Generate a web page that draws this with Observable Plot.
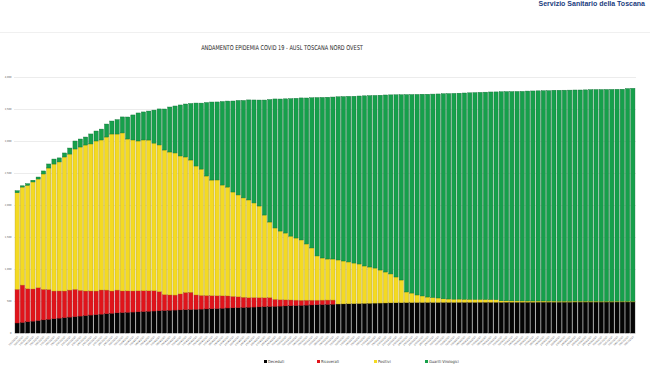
<!DOCTYPE html>
<html><head><meta charset="utf-8">
<script src="https://cdn.jsdelivr.net/npm/d3@7"></script>
<script src="https://cdn.jsdelivr.net/npm/@observablehq/plot@0.6"></script>
<style>
html,body{margin:0;padding:0;background:#fff}
body{width:650px;height:365px;overflow:hidden;position:relative;font-family:"Liberation Sans Narrow","DejaVu Sans Condensed",sans-serif}
#brand{position:absolute;right:5px;top:0px;font:bold 7px/7px "Liberation Sans","DejaVu Sans",sans-serif;color:#1b3d7e;white-space:nowrap}
#rule{position:absolute;left:0;top:32px;width:650px;height:1px;background:#f0f0f0}
#title{position:absolute;left:0;width:564px;top:44px;text-align:center;font-size:6.6px;color:#262626;white-space:nowrap;transform:scaleX(0.84);transform-origin:282px 0}
#chart{position:absolute;left:0;top:60px}
#legend{position:absolute;top:359px;left:0;width:650px;height:8px;font-size:4px;color:#333}
#legend span.item{position:absolute;white-space:nowrap;line-height:6px}
#legend span.sw{display:inline-block;width:3px;height:3px;margin-right:1px;vertical-align:middle}
</style></head><body>
<div id="brand">Servizio Sanitario della Toscana</div>
<div id="rule"></div>
<div id="title">ANDAMENTO EPIDEMIA COVID 19 - AUSL TOSCANA NORD OVEST</div>
<div id="chart"></div>
<div id="legend"></div>
<script>
// ---- data ----
const seriesNames = ["Deceduti", "Ricoverati", "Positivi", "Guariti Virologici"];
const seriesColors = ["#050505", "#e0141b", "#f4da22", "#16a04b"];
const seriesStrokes = ["#000000", "#a80f14", "#b9a21c", "#0e7034"];
const yTicks = [0, 500, 1000, 1500, 2000, 2500, 3000, 3500, 4000];
const firstDay = [2020, 2, 11];   // 11 marzo 2020
const dayCount = 118;

const deceduti = [
  156, 165, 175, 185, 195, 205, 214, 223, 232, 240, 248, 256, 264, 272, 280, 287, 294, 301, 308, 315,
  319, 323, 327, 331, 335, 339, 343, 347, 351, 355, 358, 361, 364, 367, 370, 373, 376, 379, 382, 386,
  390, 393, 396, 399, 402, 405, 408, 411, 414, 417, 420, 423, 426, 429, 432, 435, 438, 441, 444, 447,
  450, 453, 455, 457, 459, 461, 463, 465, 467, 468, 469, 471, 472, 473, 475, 476, 477, 477, 478, 478,
  478, 479, 479, 479, 480, 480, 480, 480, 481, 481, 481, 481, 481, 482, 482, 482, 482, 482, 482, 483,
  483, 483, 483, 483, 483, 483, 484, 484, 484, 484, 484, 484, 484, 484, 485, 485, 485, 485
];
const ricoverati = [
  527, 584, 517, 503, 513, 478, 466, 433, 425, 416, 423, 427, 403, 384, 377, 369, 378, 370, 348, 356,
  338, 335, 330, 328, 325, 320, 318, 300, 250, 240, 235, 250, 270, 270, 225, 215, 210, 205, 200, 195,
  190, 180, 170, 160, 150, 150, 145, 140, 140, 110, 100, 95, 90, 85, 80, 78, 75, 72, 70, 68,
  65
];
const positivi = [
  1509, 1531, 1616, 1672, 1698, 1802, 1898, 1984, 2016, 2094, 2125, 2192, 2239, 2281, 2297, 2344, 2344, 2391, 2453, 2438,
  2469, 2373, 2359, 2341, 2356, 2356, 2306, 2291, 2258, 2233, 2220, 2155, 2116, 2066, 2014, 1973, 1867, 1806, 1809, 1731,
  1700, 1630, 1591, 1552, 1527, 1477, 1431, 1292, 1180, 1114, 1073, 1044, 998, 970, 942, 878, 816, 691, 658, 641,
  641, 688, 670, 653, 634, 617, 584, 566, 548, 516, 484, 452, 403, 355, 166, 148, 117, 102, 84, 77,
  69, 55, 52, 50, 50, 48, 47, 45, 45, 43, 42, 40, 22, 21, 20, 20, 19, 18, 18, 17,
  17, 16, 16, 15, 15, 15, 15, 14, 14, 14, 14, 13, 13, 13, 13, 12, 12, 12
];
const guariti = [
  31, 20, 25, 27, 31, 47, 63, 78, 63, 63, 94, 125, 125, 125, 156, 156, 170, 203, 203, 225,
  250, 344, 391, 438, 438, 453, 516, 563, 641, 703, 734, 797, 828, 883, 984, 1031, 1148, 1219, 1219, 1305,
  1344, 1422, 1477, 1523, 1563, 1609, 1656, 1797, 1914, 2016, 2063, 2097, 2148, 2183, 2219, 2281, 2347, 2475, 2509, 2528,
  2531, 2550, 2569, 2588, 2606, 2625, 2659, 2678, 2697, 2731, 2766, 2798, 2847, 2895, 3084, 3102, 3134, 3152, 3169, 3178,
  3188, 3205, 3210, 3215, 3217, 3222, 3226, 3231, 3234, 3239, 3243, 3246, 3267, 3269, 3270, 3272, 3274, 3280, 3282, 3284,
  3286, 3288, 3294, 3295, 3296, 3297, 3298, 3299, 3301, 3305, 3306, 3307, 3308, 3309, 3310, 3312, 3322, 3326
];

// ---- build ----
const start = new Date(firstDay[0], firstDay[1], firstDay[2]);
const days = d3.timeDay.range(start, d3.timeDay.offset(start, dayCount));
const fmt = d3.timeFormat("%d/%m/%Y");
const dayLabels = days.map(fmt);

const seriesValues = [deceduti, ricoverati, positivi, guariti];
const rows = [];
seriesValues.forEach((vals, s) => {
  vals.forEach((v, i) => rows.push({day: dayLabels[i], serie: seriesNames[s], value: v}));
});

const chart = Plot.plot({
  width: 650,
  height: 300,
  marginLeft: 14,
  marginRight: 14,
  marginTop: 17,
  marginBottom: 27,
  style: {background: "transparent", fontFamily: "Liberation Sans Narrow, DejaVu Sans Condensed, sans-serif"},
  x: {domain: dayLabels, padding: 0.2, axis: null},
  y: {domain: [0, 4000], ticks: yTicks, axis: null},
  color: {domain: seriesNames, range: seriesColors},
  marks: [
    Plot.gridY(yTicks, {stroke: "#e4e4e4", strokeOpacity: 1, strokeWidth: 0.7}),
    Plot.axisY(yTicks, {tickSize: 0, tickPadding: 3, fontSize: 2.6, fill: "#555", label: null, tickFormat: d => d}),
    Plot.barY(rows, {
      x: "day", y: "value", fill: "serie",
      stroke: d => seriesStrokes[seriesNames.indexOf(d.serie)],
      strokeWidth: 0.4,
      inset: 0
    }),
    Plot.axisX({tickSize: 0, tickPadding: 3, tickRotate: -45, fontSize: 2.4, fill: "#555", label: null})
  ]
});
document.getElementById("chart").appendChild(chart);

// legend
const legendX = [264, 317, 374, 425];
const legend = document.getElementById("legend");
seriesNames.forEach((name, i) => {
  const item = document.createElement("span");
  item.className = "item";
  item.style.left = legendX[i] + "px";
  item.innerHTML = `<span class="sw" style="background:${seriesColors[i]}"></span>${name}`;
  legend.appendChild(item);
});
</script>
</body></html>
